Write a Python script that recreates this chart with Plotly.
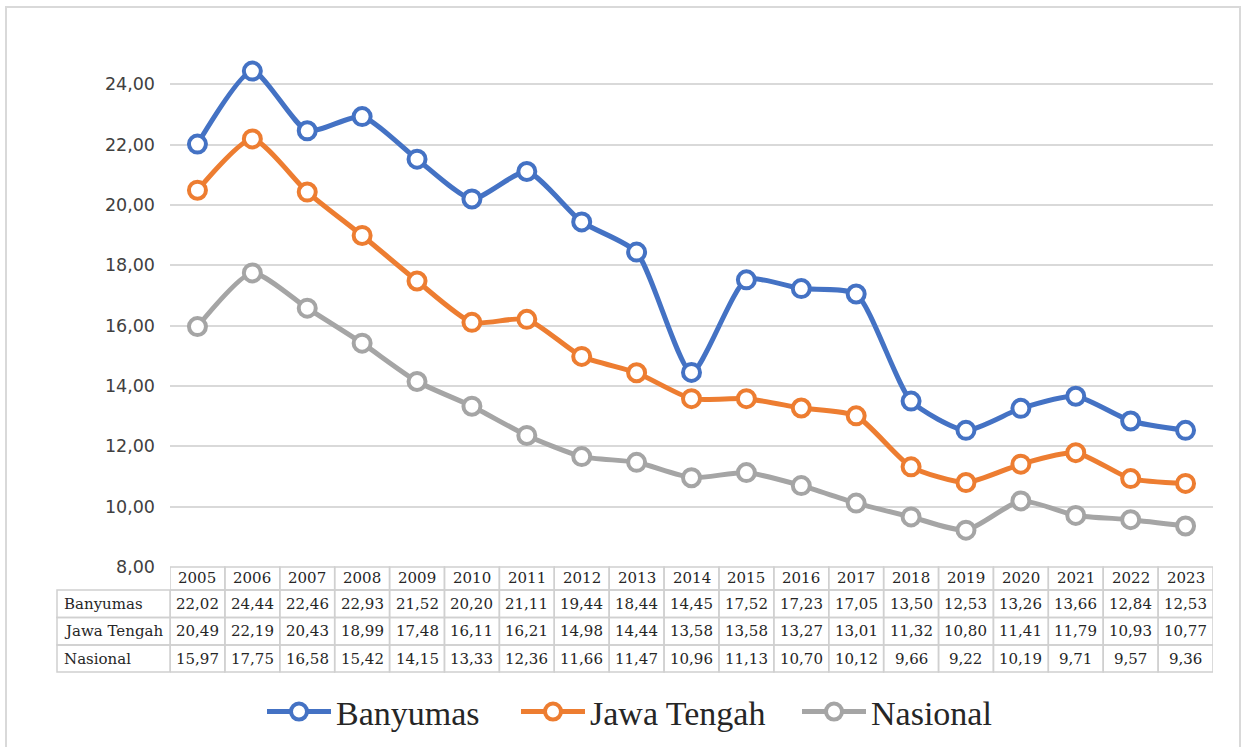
import plotly.graph_objects as go

years = ["2005", "2006", "2007", "2008", "2009", "2010", "2011", "2012", "2013", "2014",
         "2015", "2016", "2017", "2018", "2019", "2020", "2021", "2022", "2023"]
banyumas = [22.02, 24.44, 22.46, 22.93, 21.52, 20.20, 21.11, 19.44, 18.44, 14.45,
            17.52, 17.23, 17.05, 13.50, 12.53, 13.26, 13.66, 12.84, 12.53]
jawa_tengah = [20.49, 22.19, 20.43, 18.99, 17.48, 16.11, 16.21, 14.98, 14.44, 13.58,
               13.58, 13.27, 13.01, 11.32, 10.80, 11.41, 11.79, 10.93, 10.77]
nasional = [15.97, 17.75, 16.58, 15.42, 14.15, 13.33, 12.36, 11.66, 11.47, 10.96,
            11.13, 10.70, 10.12, 9.66, 9.22, 10.19, 9.71, 9.57, 9.36]
series_names = ["Banyumas", "Jawa Tengah", "Nasional"]
y_tick_values = [8, 10, 12, 14, 16, 18, 20, 22, 24]
y_tick_labels = ["8,00", "10,00", "12,00", "14,00", "16,00", "18,00", "20,00", "22,00", "24,00"]

series_values = [banyumas, jawa_tengah, nasional]
series_colors = ["#4472C4", "#ED7D31", "#A5A5A5"]
legend_ids = ["legend", "legend2", "legend3"]
legend_left_px = [262, 516, 797]

W, H = 1244, 747
L, R, T, B = 170, 31, 24, 180
plot_w = W - L - R
plot_h = H - T - B


def px_x(p):
    return (p - L) / plot_w


def px_y(p):
    return (H - B - p) / plot_h


fig = go.Figure()
for name, vals, col, lg in zip(series_names, series_values, series_colors, legend_ids):
    fig.add_trace(go.Scatter(
        x=years, y=vals, name=name, mode="lines+markers", legend=lg,
        line=dict(color=col, width=5, shape="spline", smoothing=0.6),
        marker=dict(symbol="circle", size=17, color="white",
                    line=dict(color=col, width=4)),
    ))

grid_col = "#d0d0d0"
shapes = []
annotations = []
tfont = dict(family="DejaVu Serif", size=15, color="#262626")

# header row
hdr_top, hdr_bot = 567, 590
for i, yr in enumerate(years):
    shapes.append(dict(type="rect", xref="x", yref="paper",
                       x0=i - 0.5, x1=i + 0.5, y0=px_y(hdr_bot), y1=px_y(hdr_top),
                       line=dict(color=grid_col, width=1.5), layer="above"))
    annotations.append(dict(xref="x", yref="paper", x=i, y=px_y((hdr_top + hdr_bot) / 2),
                            text=yr, showarrow=False, font=tfont,
                            xanchor="center", yanchor="middle"))

row_edges = [(590, 617.5), (617.5, 645), (645, 672)]
label_left = 57
for (top, bot), name, vals in zip(row_edges, series_names, series_values):
    shapes.append(dict(type="rect", xref="paper", yref="paper",
                       x0=px_x(label_left), x1=0, y0=px_y(bot), y1=px_y(top),
                       line=dict(color=grid_col, width=1.5), layer="above"))
    annotations.append(dict(xref="paper", yref="paper", x=px_x(label_left), xshift=5,
                            y=px_y((top + bot) / 2), text=name, showarrow=False,
                            font=tfont, xanchor="left", yanchor="middle"))
    for i, v in enumerate(vals):
        shapes.append(dict(type="rect", xref="x", yref="paper",
                           x0=i - 0.5, x1=i + 0.5, y0=px_y(bot), y1=px_y(top),
                           line=dict(color=grid_col, width=1.5), layer="above"))
        annotations.append(dict(xref="x", yref="paper", x=i, y=px_y((top + bot) / 2),
                                text=f"{v:.2f}".replace(".", ","), showarrow=False,
                                font=tfont, xanchor="center", yanchor="middle"))

# outer frame (bottom edge lies below the visible page)
shapes.append(dict(type="rect", xref="paper", yref="paper",
                   x0=px_x(6), x1=px_x(1240), y0=px_y(760), y1=px_y(7),
                   line=dict(color="#d9d9d9", width=2), layer="below"))

legend_layout = {}
for lg, lx in zip(legend_ids, legend_left_px):
    legend_layout[lg] = dict(
        orientation="h", xref="container", yref="container",
        x=lx / W, y=1 - 712 / H, xanchor="left", yanchor="middle",
        font=dict(family="Liberation Serif", size=34, color="#262626"),
        itemwidth=64, bgcolor="rgba(0,0,0,0)")

fig.update_layout(
    width=W, height=H,
    margin=dict(l=L, r=R, t=T, b=B, autoexpand=False),
    paper_bgcolor="white", plot_bgcolor="white",
    shapes=shapes, annotations=annotations,
    showlegend=True,
    xaxis=dict(type="category", range=[-0.5, 18.5], showgrid=False, showticklabels=False,
               showline=False, zeroline=False, ticks=""),
    yaxis=dict(range=[8, 26], tickvals=y_tick_values, ticktext=y_tick_labels,
               showgrid=True, gridcolor="#d9d9d9", gridwidth=2, zeroline=False,
               showline=False, ticks="", ticklabelstandoff=14,
               tickfont=dict(family="DejaVu Sans", size=17.5, color="#404040")),
    **legend_layout,
)

fig.write_html("out.html", config=dict(displayModeBar=False),
               post_script="document.body.style.margin='0';document.body.style.overflow='hidden';")
